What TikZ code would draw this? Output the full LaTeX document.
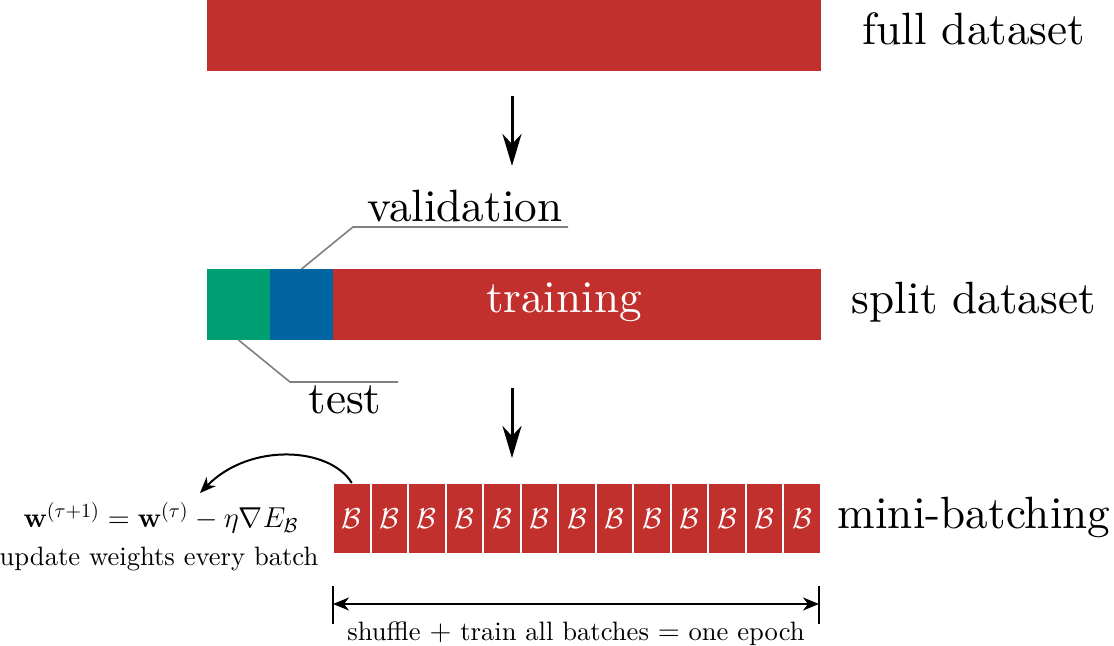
\documentclass[tikz,border=0pt]{standalone}
\usepackage{amsmath,amssymb}
\usepackage{fontspec}
\setmainfont{lmroman10-regular.otf}[BoldFont=lmroman10-bold.otf, ItalicFont=lmroman10-italic.otf]
\usetikzlibrary{arrows.meta}
\definecolor{dred}{RGB}{194,48,46}
\definecolor{dgreen}{RGB}{0,158,115}
\definecolor{dblue}{RGB}{0,101,160}
\newcommand{\bigtxt}{\fontsize{22.6}{27}\selectfont}
\newcommand{\smalltxt}{\fontsize{13.3}{16}\selectfont}
\tikzset{
  blk/.style={inner sep=0pt, outer sep=0pt, minimum height=35.5pt},
  lbl/.style={inner sep=0pt, anchor=base, font=\bigtxt},
  slbl/.style={inner sep=0pt, anchor=base, font=\smalltxt},
  batch/.style={blk, fill=dred, draw=white, line width=1pt, minimum width=18.77pt, text=white, font=\fontsize{15.5}{18}\selectfont},
  bigarrow/.style={line width=1.5pt, -{Stealth[length=16pt, width=9.5pt, inset=5pt]}},
  leader/.style={draw=gray, line width=0.8pt},
  thinarrow/.style={line width=1pt, -{Stealth[length=8pt, width=6.5pt, inset=2.5pt]}}
}
\begin{document}
\begin{tikzpicture}[x=0.5pt, y=-0.5pt]
\useasboundingbox (0,0) rectangle (1114,646);
% full dataset
\node[blk, fill=dred, minimum width=307pt] (full) at (514,35.5) {};
\node[lbl] (fulltxt) at (974,45) {full dataset};
% arrow 1
\coordinate (a1s) at (512,96);
\coordinate (a1e) at (512,166);
\draw[bigarrow] (a1s) -- (a1e);
% split dataset
\node[blk, fill=dgreen, minimum width=31.5pt] (test) at (238.5,304.5) {};
\node[blk, fill=dblue, minimum width=31.5pt] (val) at (301.5,304.5) {};
\node[blk, fill=dred, minimum width=244pt] (train) at (577,304.5) {};
\node[lbl, text=white] (traintxt) at (564,313) {training};
\node[lbl] (splittxt) at (974,314) {split dataset};
% leaders
\coordinate (v1) at (353,227);
\coordinate (v2) at (568,227);
\draw[leader] (val.north) -- (v1) -- (v2);
\node[lbl] (valtxt) at (465,222) {validation};
\coordinate (t1) at (290,382);
\coordinate (t2) at (398,382);
\draw[leader] (test.south) -- (t1) -- (t2);
\node[lbl] (testtxt) at (345,414) {test};
% arrow 2
\coordinate (a2s) at (512,388);
\coordinate (a2e) at (512,458);
\draw[bigarrow] (a2s) -- (a2e);
% mini-batches
\foreach \i in {0,...,12} {
  \node[batch] (b\i) at ({333+37.54*(\i+0.5)},518.5) {$\mathcal{B}$};
}
\node[lbl] (minitxt) at (974,529) {mini-batching};
% update arrow
\coordinate (upd) at (200,493);
\draw[thinarrow] (b0.north) .. controls (330,447) and (250,442) .. (upd);
\node[inner sep=0pt, anchor=base, font=\fontsize{14}{16}\selectfont] (formula) at (161,528) {$\mathbf{w}^{(\tau+1)} = \mathbf{w}^{(\tau)} - \eta\nabla E_{\mathcal{B}}$};
\node[slbl] (updtxt) at (159,566) {update weights every batch};
% epoch dimension
\coordinate (dl1) at (333,586);
\coordinate (dl2) at (333,624);
\coordinate (dr1) at (819,586);
\coordinate (dr2) at (819,624);
\coordinate (dl) at (333,604);
\coordinate (dr) at (819,604);
\draw[line width=1pt] (dl1) -- (dl2);
\draw[line width=1pt] (dr1) -- (dr2);
\draw[line width=1pt, {Stealth[length=8pt, width=6.5pt, inset=2.5pt]}-{Stealth[length=8pt, width=6.5pt, inset=2.5pt]}] (dl) -- (dr);
\node[slbl] (epochtxt) at (576,640) {shuffle $+$ train all batches $=$ one epoch};
\end{tikzpicture}
\end{document}
